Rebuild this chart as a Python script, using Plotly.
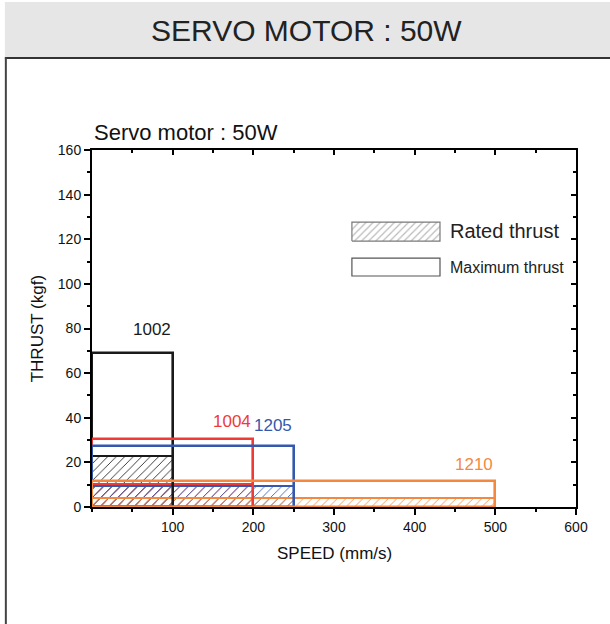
import plotly.graph_objects as go

# Servo motor 50W: thrust envelope per model
models = ["1002", "1004", "1205", "1210"]
max_speed = [100, 200, 250, 500]          # mm/s
rated_thrust = [23, 10.3, 9.3, 4]          # kgf
max_thrust = [69, 30.3, 27.5, 11.8]        # kgf
colors = ["#1a1a1a", "#ee3b36", "#3558ad", "#f5883f"]

x_ticks = [100, 200, 300, 400, 500, 600]
y_ticks = [0, 20, 40, 60, 80, 100, 120, 140, 160]

FONT = "Arial, Liberation Sans, sans-serif"

fig = go.Figure()

# Rated thrust: hatched regions
for m, s, r, c in zip(models, max_speed, rated_thrust, colors):
    fig.add_trace(
        go.Bar(
            x=[s / 2], y=[r], width=[s], base=0,
            marker=dict(
                color=c,
                pattern=dict(shape="/", size=6, solidity=0.14, fgcolor=c,
                             bgcolor="rgba(0,0,0,0)", fillmode="replace"),
                line=dict(color=c, width=2),
            ),
            hoverinfo="skip", showlegend=False,
        )
    )

# Maximum thrust: open boxes
for m, s, mx, c in zip(models, max_speed, max_thrust, colors):
    fig.add_trace(
        go.Bar(
            x=[s / 2], y=[mx], width=[s], base=0,
            marker=dict(color="rgba(0,0,0,0)", line=dict(color=c, width=2.6)),
            hoverinfo="skip", showlegend=False,
        )
    )

# Model labels just above the top right corner of each box
label_shift = [24, 18, 20, 16]
for m, s, mx, c, dy in zip(models, max_speed, max_thrust, colors, label_shift):
    fig.add_annotation(
        x=s, y=mx, text=m, showarrow=False, xanchor="right", yanchor="middle",
        yshift=dy, font=dict(family=FONT, size=17, color=c),
    )

# Dummy trace so the mirrored top/right axes are drawn
fig.add_trace(go.Scatter(x=[None], y=[None], xaxis="x2", yaxis="y2",
                         showlegend=False, hoverinfo="skip"))

# Custom legend swatch (hatched) on a helper 0-1 axis pair
fig.add_trace(
    go.Scatter(
        x=[0.537, 0.537, 0.719, 0.719, 0.537],
        y=[0.745, 0.798, 0.798, 0.745, 0.745],
        xaxis="x3", yaxis="y3", mode="lines", fill="toself",
        fillcolor="white",
        fillpattern=dict(shape="/", fgcolor="#777777", bgcolor="white",
                         size=5, solidity=0.25),
        line=dict(color="#7a7a7a", width=1.2),
        showlegend=False, hoverinfo="skip",
    )
)

fig.add_shape(type="rect", xref="paper", yref="paper",
              x0=0.537, x1=0.719, y0=0.647, y1=0.697,
              line=dict(color="#555555", width=1.2), fillcolor="white")
fig.add_annotation(xref="paper", yref="paper", x=0.735, y=0.773, text="Rated thrust",
                   showarrow=False, xanchor="left", yanchor="middle",
                   font=dict(family=FONT, size=20, color="#222"))
fig.add_annotation(xref="paper", yref="paper", x=0.735, y=0.672, text="Maximum thrust",
                   showarrow=False, xanchor="left", yanchor="middle",
                   font=dict(family=FONT, size=16, color="#222"))

# Page header bar and frame
fig.add_shape(type="rect", xref="paper", yref="paper", x0=-0.18, x1=1.1,
              y0=1.2605, y1=1.4146, line=dict(width=0), fillcolor="#e6e6e7")
fig.add_shape(type="line", xref="paper", yref="paper", x0=-0.18, x1=1.1,
              y0=1.258, y1=1.258, line=dict(color="#333333", width=2))
fig.add_shape(type="line", xref="paper", yref="paper", x0=-0.178, x1=-0.178,
              y0=1.26, y1=-0.4, line=dict(color="#444444", width=2))
fig.add_annotation(xref="paper", yref="paper", x=0.444, y=1.335,
                   text="SERVO MOTOR : 50W", showarrow=False,
                   xanchor="center", yanchor="middle",
                   font=dict(family=FONT, size=30, color="#222"))

# Chart title and axis titles
fig.add_annotation(xref="paper", yref="paper", x=0.0, y=1.049,
                   text="Servo motor : 50W", showarrow=False, xanchor="left",
                   yanchor="middle", font=dict(family=FONT, size=22, color="#111"))
fig.add_annotation(xref="paper", yref="paper", x=0.5, y=-0.129,
                   text="SPEED (mm/s)", showarrow=False,
                   xanchor="center", yanchor="middle",
                   font=dict(family=FONT, size=17, color="#111"))
fig.add_annotation(xref="paper", yref="paper", x=-0.112, y=0.5,
                   text="THRUST (kgf)", showarrow=False, textangle=-90,
                   xanchor="center", yanchor="middle",
                   font=dict(family=FONT, size=17, color="#111"))

tickfont = dict(family=FONT, size=14, color="#111")
fig.update_layout(
    width=610, height=624,
    margin=dict(l=92, r=34, t=150, b=117),
    paper_bgcolor="white", plot_bgcolor="white",
    barmode="overlay", bargap=0,
    showlegend=False,
    xaxis=dict(
        range=[0, 600], showline=True, linecolor="black", linewidth=2,
        ticks="outside", ticklen=6, tickwidth=1.5, tickcolor="black",
        tickvals=x_ticks, tickfont=tickfont, showgrid=False, zeroline=False,
        minor=dict(ticks="outside", ticklen=3, tickwidth=1.5, tickcolor="black",
                   dtick=50, tick0=0, showgrid=False),
    ),
    yaxis=dict(
        range=[0, 160], showline=True, linecolor="black", linewidth=2,
        ticks="outside", ticklen=6, tickwidth=1.5, tickcolor="black",
        tickvals=y_ticks, tickfont=tickfont, showgrid=False, zeroline=False,
        minor=dict(ticks="outside", ticklen=3, tickwidth=1.5, tickcolor="black",
                   dtick=10, tick0=0, showgrid=False),
    ),
    xaxis2=dict(
        overlaying="x", side="top", anchor="y2", range=[0, 600],
        showline=True, linecolor="black", linewidth=2,
        ticks="inside", ticklen=5, tickwidth=1.5, tickcolor="black",
        tickvals=x_ticks, showticklabels=False, showgrid=False, zeroline=False,
        minor=dict(ticks="inside", ticklen=3, tickwidth=1.5, tickcolor="black",
                   dtick=50, tick0=0, showgrid=False),
    ),
    yaxis2=dict(
        overlaying="y", side="right", anchor="x2", range=[0, 160],
        showline=True, linecolor="black", linewidth=2,
        ticks="inside", ticklen=5, tickwidth=1.5, tickcolor="black",
        tickvals=y_ticks, showticklabels=False, showgrid=False, zeroline=False,
        minor=dict(ticks="inside", ticklen=3, tickwidth=1.5, tickcolor="black",
                   dtick=10, tick0=0, showgrid=False),
    ),
    xaxis3=dict(overlaying="x", range=[0, 1], visible=False, anchor="y3"),
    yaxis3=dict(overlaying="y", range=[0, 1], visible=False, anchor="x3"),
)

# Drop the default page margin so the figure sits at the window's corner
fig.write_html("out.html", config={"displayModeBar": False},
               post_script="document.body.style.margin='0';")
